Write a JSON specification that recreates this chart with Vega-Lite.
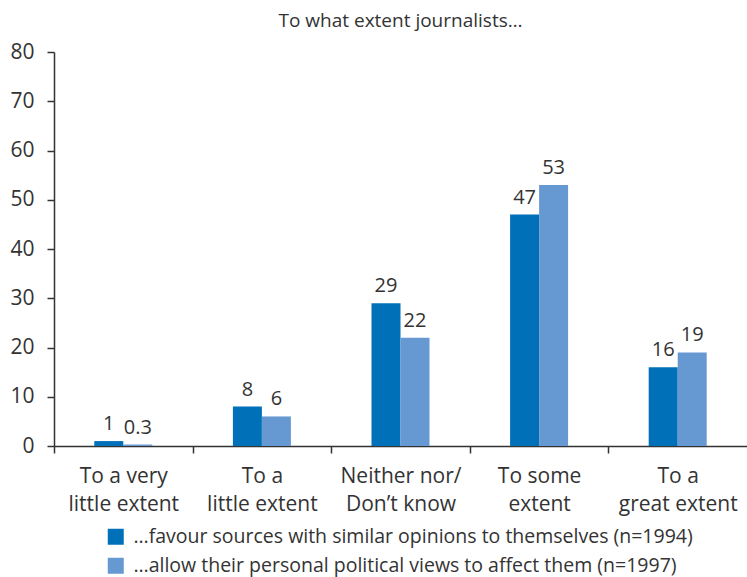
{
  "$schema": "https://vega.github.io/schema/vega-lite/v6.json",
  "width": 693,
  "height": 394,
  "autosize": "none",
  "padding": {"left": 54, "top": 52, "right": 0, "bottom": 131},
  "title": {"text": "To what extent journalists…", "fontSize": 19, "font": "Open Sans", "fontWeight": "normal", "color": "#333333", "anchor": "middle", "offset": 10},
  "config": {"view": {"stroke": null}, "font": "Open Sans"},
  "data": {"values": [
    {"cat": "To a very|little extent", "series": "…favour sources with similar opinions to themselves (n=1994)", "value": 1},
    {"cat": "To a very|little extent", "series": "…allow their personal political views to affect them (n=1997)", "value": 0.3},
    {"cat": "To a|little extent", "series": "…favour sources with similar opinions to themselves (n=1994)", "value": 8},
    {"cat": "To a|little extent", "series": "…allow their personal political views to affect them (n=1997)", "value": 6},
    {"cat": "Neither nor/|Don’t know", "series": "…favour sources with similar opinions to themselves (n=1994)", "value": 29},
    {"cat": "Neither nor/|Don’t know", "series": "…allow their personal political views to affect them (n=1997)", "value": 22},
    {"cat": "To some|extent", "series": "…favour sources with similar opinions to themselves (n=1994)", "value": 47},
    {"cat": "To some|extent", "series": "…allow their personal political views to affect them (n=1997)", "value": 53},
    {"cat": "To a|great extent", "series": "…favour sources with similar opinions to themselves (n=1994)", "value": 16},
    {"cat": "To a|great extent", "series": "…allow their personal political views to affect them (n=1997)", "value": 19}
  ]},
  "encoding": {
    "x": {
      "field": "cat", "type": "nominal",
      "sort": ["To a very|little extent", "To a|little extent", "Neither nor/|Don’t know", "To some|extent", "To a|great extent"],
      "scale": {"paddingInner": 0.5815, "paddingOuter": 0.2907},
      "axis": {"title": null, "labelAngle": 0, "bandPosition": 0, "tickOffset": -40.3, "labelOffset": 40.3, "tickSize": 7, "domainColor": "#333333", "tickColor": "#333333", "domainWidth": 1.5, "tickWidth": 1.5, "labelExpr": "split(datum.label, '|')", "labelFontSize": 21, "labelColor": "#333333", "labelPadding": 12, "labelLineHeight": 28, "labelBaseline": "top"}
    },
    "xOffset": {
      "field": "series", "type": "nominal",
      "sort": ["…favour sources with similar opinions to themselves (n=1994)", "…allow their personal political views to affect them (n=1997)"],
      "scale": {"paddingOuter": 0, "paddingInner": 0}
    },
    "y": {
      "field": "value", "type": "quantitative",
      "scale": {"domain": [0, 80], "nice": false},
      "axis": {"title": null, "values": [0, 10, 20, 30, 40, 50, 60, 70, 80], "grid": false, "tickSize": 7, "domainColor": "#333333", "tickColor": "#333333", "domainWidth": 1.5, "tickWidth": 1.5, "labelFontSize": 21, "labelColor": "#333333", "labelPadding": 13}
    }
  },
  "layer": [
    {
      "mark": {"type": "bar"},
      "encoding": {
        "color": {
          "field": "series", "type": "nominal",
          "scale": {"domain": ["…favour sources with similar opinions to themselves (n=1994)", "…allow their personal political views to affect them (n=1997)"], "range": ["#0070b9", "#6699d1"]},
          "legend": {"orient": "none", "legendX": 52, "legendY": 475, "title": null, "symbolType": "square", "symbolSize": 256, "labelFontSize": 19.5, "labelColor": "#333333", "rowPadding": 8, "labelOffset": 8, "labelLimit": 700, "symbolStrokeWidth": 0, "symbolOpacity": 1}
        }
      }
    },
    {
      "mark": {"type": "text", "baseline": "alphabetic", "dy": -11, "fontSize": 20, "color": "#333333"},
      "encoding": {
        "text": {"field": "value", "type": "nominal"}
      }
    }
  ]
}
